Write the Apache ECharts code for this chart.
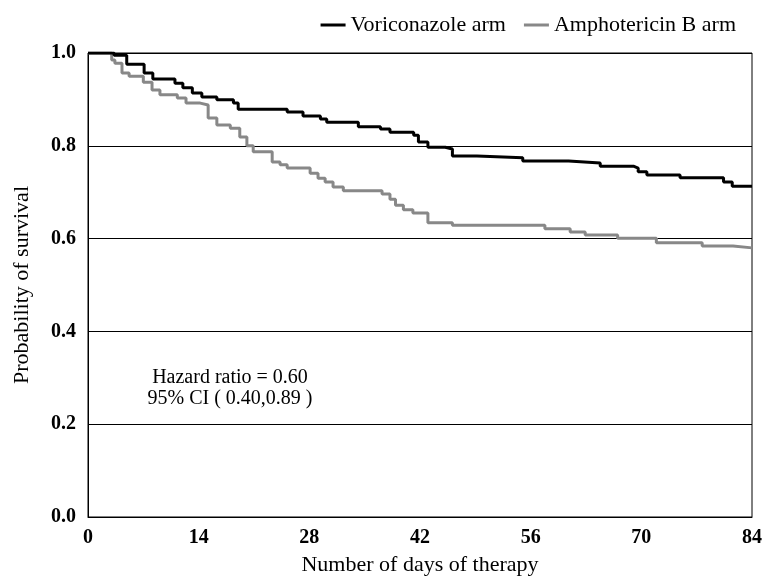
<!DOCTYPE html>
<html>
<head>
<meta charset="UTF-8">
<script src="https://cdn.jsdelivr.net/npm/echarts@6/dist/echarts.min.js"></script>
<title></title>
</head>
<body style="margin:0">
<div id="main" style="width:763px;height:577px"></div>
<script type="text/javascript">
// step points: [day of drop, survival after drop]
var voriconazole = [
    [0, 1.0], [3.3, 0.995], [4.9, 0.976], [7.1, 0.957], [8.2, 0.944], [11, 0.935],
    [12, 0.925], [13.2, 0.914], [14.4, 0.905], [16.3, 0.899], [18.4, 0.892], [19, 0.879],
    [25.2, 0.873], [27.2, 0.864], [29.4, 0.858], [30.2, 0.851], [34.2, 0.841], [37, 0.836],
    [38.2, 0.829], [41.2, 0.823], [41.8, 0.808], [43, 0.797], [45.2, 0.793], [46.1, 0.778],
    [49.2, 0.774], [55, 0.767], [60.8, 0.763], [64.8, 0.756], [69, 0.752], [69.6, 0.744],
    [70.7, 0.737], [74.9, 0.731], [80.4, 0.722], [81.5, 0.713], [84, 0.713]
];
var amphotericin = [
    [0, 1.0], [3, 0.985], [3.4, 0.978], [4.3, 0.957], [5.2, 0.95], [7, 0.937],
    [8.1, 0.92], [9.1, 0.91], [11.3, 0.903], [12.4, 0.892], [14.2, 0.888], [15.2, 0.86],
    [16.3, 0.845], [18, 0.838], [19.2, 0.819], [20.1, 0.80], [20.9, 0.787], [23.3, 0.765],
    [24.3, 0.759], [25.2, 0.752], [28.1, 0.741], [29.1, 0.73], [30, 0.722], [31, 0.711],
    [32.3, 0.703], [37.2, 0.696], [38.2, 0.685], [38.9, 0.672], [39.9, 0.662], [41.1, 0.655],
    [43, 0.634], [46.1, 0.629], [57.8, 0.621], [61, 0.614], [62.9, 0.608], [67, 0.601],
    [71.9, 0.591], [77.7, 0.584], [81.6, 0.580], [84, 0.580]
];
var seriesNames = ['Voriconazole arm', 'Amphotericin B arm'];
var seriesColors = ['#000000', '#888888'];
var noteLines = ['Hazard ratio = 0.60', '95% CI ( 0.40,0.89 )'];

var font = 'Liberation Serif';
var myChart = echarts.init(document.getElementById('main'));

var option = {
    animation: false,
    backgroundColor: '#ffffff',
    textStyle: { fontFamily: font },
    legend: {
        data: seriesNames,
        right: 22,
        top: 9,
        icon: 'rect',
        itemWidth: 25,
        itemHeight: 3,
        itemGap: 18,
        textStyle: { fontFamily: font, fontSize: 22, color: '#000' }
    },
    grid: {
        left: 88,
        right: 11,
        top: 53,
        bottom: 60,
        outerBoundsMode: 'none',
        show: true,
        borderColor: '#000',
        borderWidth: 1
    },
    xAxis: {
        type: 'value',
        min: 0,
        max: 84,
        interval: 14,
        name: 'Number of days of therapy',
        nameLocation: 'middle',
        nameGap: 37,
        nameTextStyle: { fontFamily: font, fontSize: 22, color: '#000' },
        axisLine: { lineStyle: { color: '#000' } },
        axisTick: { show: false },
        axisLabel: { fontFamily: font, fontSize: 20, fontWeight: 'bold', color: '#000', margin: 11 },
        splitLine: { show: false }
    },
    yAxis: {
        type: 'value',
        min: 0,
        max: 1,
        interval: 0.2,
        name: 'Probability of survival',
        nameLocation: 'middle',
        nameGap: 55,
        nameTextStyle: { fontFamily: font, fontSize: 22, color: '#000' },
        axisLine: { show: true, lineStyle: { color: '#000' } },
        axisTick: { show: false },
        axisLabel: {
            fontFamily: font, fontSize: 20, fontWeight: 'bold', color: '#000', margin: 12,
            formatter: function (v) { return v.toFixed(1); }
        },
        splitLine: { show: true, lineStyle: { color: '#000', width: 1 } }
    },
    graphic: [{
        type: 'text',
        x: 230,
        y: 367,
        style: {
            text: noteLines.join('\n'),
            font: '20px "Liberation Serif"',
            fill: '#000',
            lineHeight: 21,
            align: 'center'
        }
    }],
    series: seriesNames.map(function (name, i) {
        return {
            name: name,
            type: 'line',
            step: 'end',
            data: i === 0 ? voriconazole : amphotericin,
            symbol: 'none',
            z: i === 0 ? 3 : 2,
            lineStyle: { color: seriesColors[i], width: 3 },
            itemStyle: { color: seriesColors[i] }
        };
    })
};

myChart.setOption(option);
</script>
</body>
</html>
